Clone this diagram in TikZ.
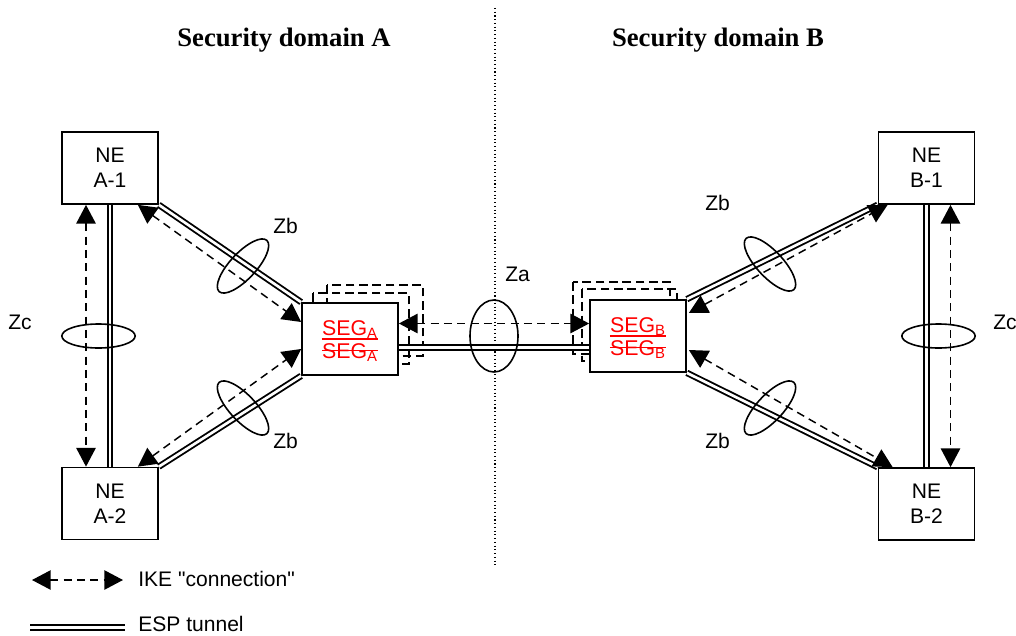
\documentclass[tikz,border=0pt]{standalone}
\usepackage{fontspec}
\setmainfont{Liberation Sans}[Ligatures=TeXOff]
\newfontfamily\titlefont{Liberation Serif}
\usetikzlibrary{arrows.meta,shapes.geometric,calc}
\begin{document}
\begin{tikzpicture}[x=0.75pt,y=-0.75pt,
  box/.style={draw,line width=1.3pt,fill=white,minimum width=72pt,minimum height=54pt,inner sep=0pt,align=center,font=\fontsize{15.8}{18.5}\selectfont},
  esp/.style={line width=1.4pt,double,double distance=2pt},
  ike/.style={line width=1.1pt,dash pattern=on 6pt off 4pt,{Triangle[length=14pt,width=14.5pt]}-{Triangle[length=14pt,width=14.5pt]}},
  ring/.style={draw,ellipse,line width=1.2pt,inner sep=0pt},
  lbl/.style={font=\fontsize{15.8}{18.5}\selectfont,inner sep=0pt,anchor=base west},
  segtxt/.style={font=\fontsize{16}{19}\selectfont,text=red,inner sep=0pt,anchor=base},
  segline/.style={draw=red,line width=1pt},
  segdash/.style={line width=1.2pt,dash pattern=on 6.5pt off 3.5pt},
  ttl/.style={font=\titlefont\bfseries\fontsize{20}{24}\selectfont,inner sep=0pt,anchor=base}
]
\useasboundingbox (0,0) rectangle (1016,635);

% domain divider
\coordinate (dtop) at (495,8);
\coordinate (dbot) at (495,565);
\draw[line width=0.8pt,dotted] (dtop) -- (dbot);

% titles
\node[ttl] (tA) at (284,46.5) {Security domain A};
\node[ttl] (tB) at (718,46.5) {Security domain B};

% dashed shadow boxes
\draw[segdash] (327,285) rectangle (423,356);
\draw[segdash] (313,293) rectangle (409,364);
\draw[segdash] (573,282) rectangle (670,354);
\draw[segdash] (582,289) rectangle (677,361);

% nodes
\node[box] (A1) at (110,168) {NE\\A-1};
\node[box] (A2) at (110,503.5) {NE\\A-2};
\node[box] (B1) at (926.5,168) {NE\\B-1};
\node[box] (B2) at (926.5,504) {NE\\B-2};
\node[box] (SA) at (350,339) {};
\node[box] (SB) at (638,336) {};

\node[segtxt] (SAt1) at (350,335) {SEG\textsubscript{A}};
\node[segtxt] (SAt2) at (350,358) {SEG\textsubscript{A}};
\node[segtxt] (SBt1) at (638,332) {SEG\textsubscript{B}};
\node[segtxt] (SBt2) at (638,355) {SEG\textsubscript{B}};
\draw[segline] ($(SAt1.base west)+(0,4)$) -- ($(SAt1.base east)+(0,4)$);
\draw[segline] ($(SAt2.base west)+(0,-7.5)$) -- ($(SAt2.base east)+(0,-7.5)$);
\draw[segline] ($(SBt1.base west)+(0,4)$) -- ($(SBt1.base east)+(0,4)$);
\draw[segline] ($(SBt2.base west)+(0,-7.5)$) -- ($(SBt2.base east)+(0,-7.5)$);

% ESP tunnels
\draw[esp] (A1.south) -- (A2.north);
\draw[esp] (B1.south) -- (B2.north);
\draw[esp] (A1.south east) -- (SA.north west);
\draw[esp] (A2.north east) -- (SA.south west);
\draw[esp] (SB.north east) -- (B1.south west);
\draw[esp] (SB.south east) -- (B2.north west);
\draw[esp] ($(SA.east)+(0,8.5)$) -- ($(SB.west)+(0,11.5)$);

% IKE connections
\draw[ike] ($(A1.south)+(-24,0)$) -- ($(A2.north)+(-24,0)$);
\draw[ike] ($(B1.south)+(24,0)$) -- ($(B2.north)+(24,0)$);
\draw[ike] ($(A1.south east)+(-21,0)$) -- ($(SA.west)+(0,-17)$);
\draw[ike] ($(A2.north east)+(-21,0)$) -- ($(SA.west)+(0,10)$);
\draw[ike] ($(SA.east)+(0,-15.5)$) -- ($(SB.west)+(0,-12.5)$);
\draw[ike] ($(SB.east)+(2,-23)$) -- ($(B1.south west)+(10,0)$);
\draw[ike] ($(SB.east)+(2,14)$) -- ($(B2.north west)+(15,0)$);

% rings
\node[ring,minimum width=52.5pt,minimum height=19.5pt,rotate=47] (zb1) at (243,266) {};
\node[ring,minimum width=52.5pt,minimum height=19.5pt,rotate=-47] (zb2) at (243,408) {};
\node[ring,minimum width=52.5pt,minimum height=19.5pt,rotate=-47] (zb3) at (770,264) {};
\node[ring,minimum width=52.5pt,minimum height=19.5pt,rotate=47] (zb4) at (770,408) {};
\node[ring,minimum width=36pt,minimum height=54pt] (za) at (494,336) {};
\node[ring,minimum width=55pt,minimum height=18pt] (zc1) at (98.5,336) {};
\node[ring,minimum width=55pt,minimum height=18pt] (zc2) at (938.5,336) {};

% ring labels
\node[lbl] (lzb1) at (273,233.5) {Zb};
\node[lbl] (lzb2) at (273,448.5) {Zb};
\node[lbl] (lzb3) at (705,210) {Zb};
\node[lbl] (lzb4) at (705,448.5) {Zb};
\node[lbl] (lza) at (505,281) {Za};
\node[lbl] (lzc1) at (8,329) {Zc};
\node[lbl] (lzc2) at (993,329) {Zc};

% legend
\coordinate (k1) at (32,580);
\coordinate (k2) at (123,580);
\draw[ike] (k1) -- (k2);
\node[lbl] (kt1) at (138,586) {IKE "connection"};
\coordinate (e1) at (30,627.5);
\coordinate (e2) at (125,627.5);
\draw[esp] (e1) -- (e2);
\node[lbl] (kt2) at (138,631) {ESP tunnel};
\end{tikzpicture}
\end{document}
